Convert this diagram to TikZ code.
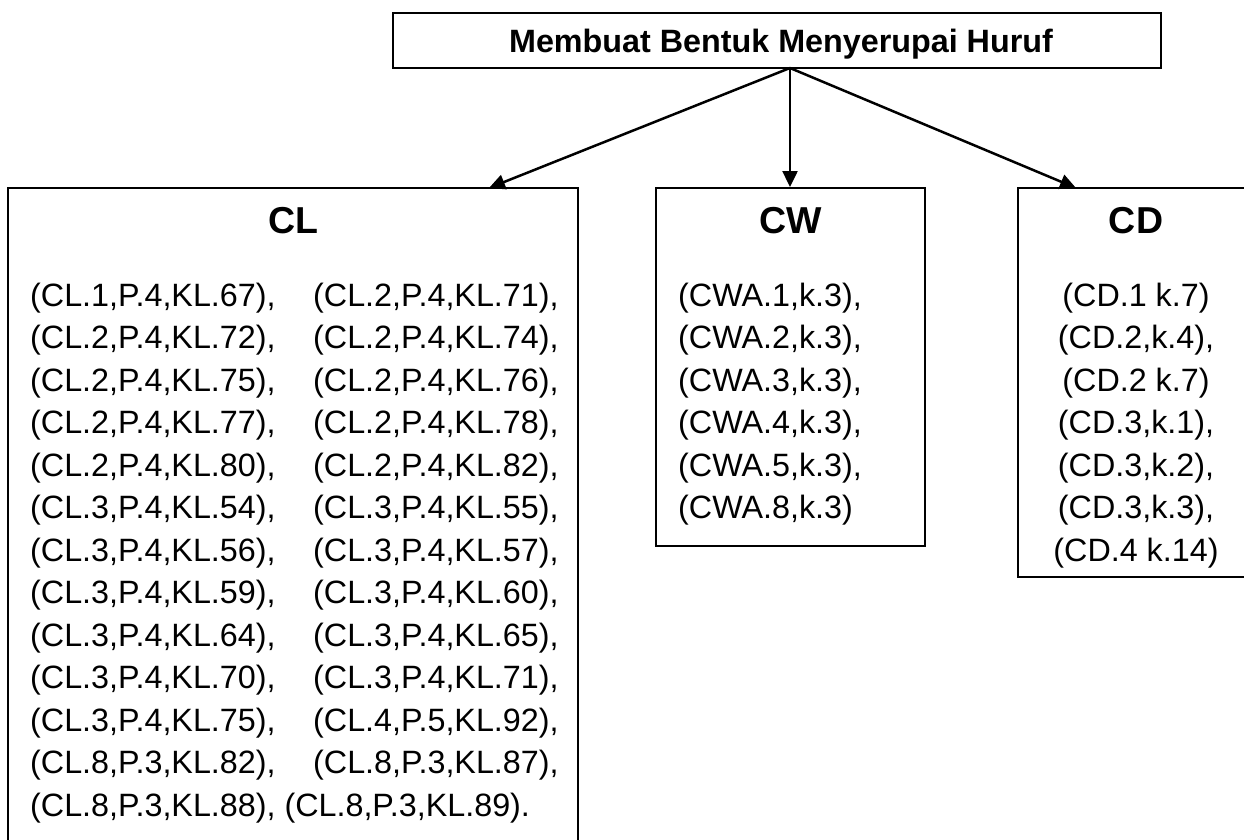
\documentclass[tikz,border=0pt]{standalone}
\usepackage{fontspec}
\setmainfont{Liberation Sans}
\usetikzlibrary{arrows.meta}
\begin{document}
\begin{tikzpicture}[x=1pt,y=-1pt,
  box/.style={draw, line width=2pt, inner sep=0pt},
  arr/.style={line width=2.5pt, -{Triangle[length=16pt,width=15pt]}},
  body/.style={font=\fontsize{32.3}{42.5}\selectfont, inner sep=0pt},
  bodyl/.style={body, anchor=base west},
  bodyc/.style={body, anchor=base},
  head/.style={font=\bfseries\fontsize{37.5}{44}\selectfont, inner sep=0pt, anchor=base},
  ttl/.style={font=\bfseries\fontsize{32.3}{38}\selectfont, inner sep=0pt, anchor=base}]
\useasboundingbox (0,0) rectangle (1244,840);
\clip (0,0) rectangle (1244,840);
\fill[white] (0,0) rectangle (1244,840);

% boxes
\node[box, minimum width=768pt, minimum height=55pt] (top) at (777,40.5) {};
\node[box, minimum width=570pt, minimum height=672pt] (cl) at (293,524) {};
\node[box, minimum width=269pt, minimum height=358pt] (cw) at (790.5,367) {};
\node[box, minimum width=236pt, minimum height=389pt] (cd) at (1136,382.5) {};

% title and headers
\node[ttl] (title) at (781,53) {Membuat Bentuk Menyerupai Huruf};
\node[head] (clh) at (293,233) {CL};
\node[head] (cwh) at (790.5,233) {CW};
\node[head] (cdh) at (1136,233) {CD};

% connectors
\coordinate (src) at (790,68);
\coordinate (clin) at (489,188);
\coordinate (cdin) at (1076,188);
\draw[arr] (src) -- (clin);
\draw[arr] (src) -- (src |- cw.north);
\draw[arr] (src) -- (cdin);

% CL list
\node[bodyl] (cla1) at (30,306) {(CL.1,P.4,KL.67),};
\node[bodyl] (clb1) at (313,306) {(CL.2,P.4,KL.71),};
\node[bodyl] (cla2) at (30,348.5) {(CL.2,P.4,KL.72),};
\node[bodyl] (clb2) at (313,348.5) {(CL.2,P.4,KL.74),};
\node[bodyl] (cla3) at (30,391) {(CL.2,P.4,KL.75),};
\node[bodyl] (clb3) at (313,391) {(CL.2,P.4,KL.76),};
\node[bodyl] (cla4) at (30,433.5) {(CL.2,P.4,KL.77),};
\node[bodyl] (clb4) at (313,433.5) {(CL.2,P.4,KL.78),};
\node[bodyl] (cla5) at (30,476) {(CL.2,P.4,KL.80),};
\node[bodyl] (clb5) at (313,476) {(CL.2,P.4,KL.82),};
\node[bodyl] (cla6) at (30,518.5) {(CL.3,P.4,KL.54),};
\node[bodyl] (clb6) at (313,518.5) {(CL.3,P.4,KL.55),};
\node[bodyl] (cla7) at (30,561) {(CL.3,P.4,KL.56),};
\node[bodyl] (clb7) at (313,561) {(CL.3,P.4,KL.57),};
\node[bodyl] (cla8) at (30,603.5) {(CL.3,P.4,KL.59),};
\node[bodyl] (clb8) at (313,603.5) {(CL.3,P.4,KL.60),};
\node[bodyl] (cla9) at (30,646) {(CL.3,P.4,KL.64),};
\node[bodyl] (clb9) at (313,646) {(CL.3,P.4,KL.65),};
\node[bodyl] (cla10) at (30,688.5) {(CL.3,P.4,KL.70),};
\node[bodyl] (clb10) at (313,688.5) {(CL.3,P.4,KL.71),};
\node[bodyl] (cla11) at (30,731) {(CL.3,P.4,KL.75),};
\node[bodyl] (clb11) at (313,731) {(CL.4,P.5,KL.92),};
\node[bodyl] (cla12) at (30,773.5) {(CL.8,P.3,KL.82),};
\node[bodyl] (clb12) at (313,773.5) {(CL.8,P.3,KL.87),};
\node[bodyl] (cla13) at (30,816) {(CL.8,P.3,KL.88), (CL.8,P.3,KL.89).};

% CW list
\node[bodyl] (cw1) at (678,306) {(CWA.1,k.3),};
\node[bodyl] (cw2) at (678,348.5) {(CWA.2,k.3),};
\node[bodyl] (cw3) at (678,391) {(CWA.3,k.3),};
\node[bodyl] (cw4) at (678,433.5) {(CWA.4,k.3),};
\node[bodyl] (cw5) at (678,476) {(CWA.5,k.3),};
\node[bodyl] (cw6) at (678,518.5) {(CWA.8,k.3)};

% CD list
\node[bodyc] (cd1) at (1136,306) {(CD.1 k.7)};
\node[bodyc] (cd2) at (1136,348.5) {(CD.2,k.4),};
\node[bodyc] (cd3) at (1136,391) {(CD.2 k.7)};
\node[bodyc] (cd4) at (1136,433.5) {(CD.3,k.1),};
\node[bodyc] (cd5) at (1136,476) {(CD.3,k.2),};
\node[bodyc] (cd6) at (1136,518.5) {(CD.3,k.3),};
\node[bodyc] (cd7) at (1136,561) {(CD.4 k.14)};
\end{tikzpicture}
\end{document}
